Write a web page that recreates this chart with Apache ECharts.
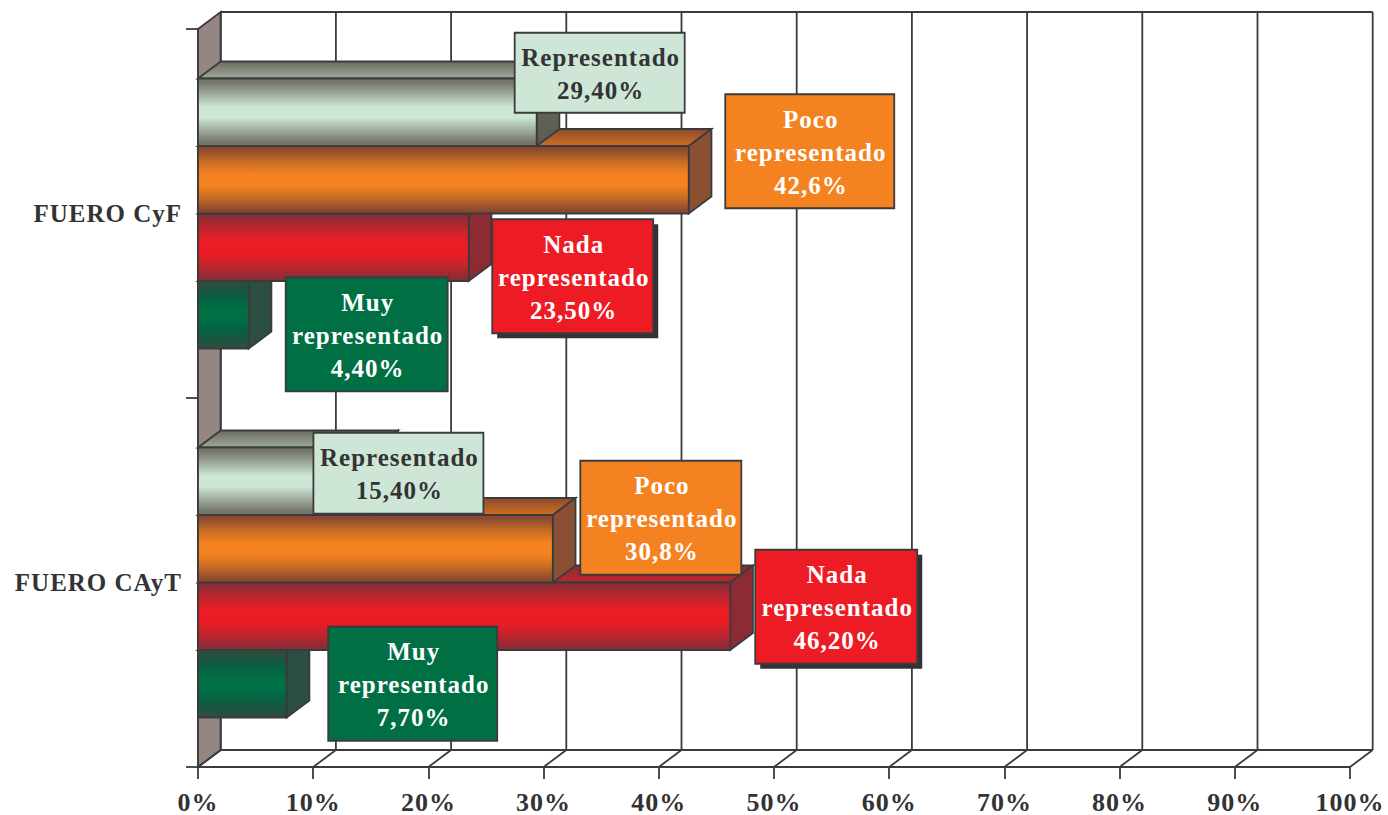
<!DOCTYPE html>
<html>
<head>
<meta charset="utf-8">
<style>
  html, body { margin: 0; padding: 0; background: #fff; }
  #main { width: 1388px; height: 815px; }
  #main text { letter-spacing: 1px; }
</style>
<script src="https://cdn.jsdelivr.net/npm/echarts@6/dist/echarts.min.js"></script>
</head>
<body>
<div id="main"></div>
<script>
const categories = ['FUERO CAyT', 'FUERO CyF'];
const ticks = [0, 10, 20, 30, 40, 50, 60, 70, 80, 90, 100];

const muyValues = [7.7, 4.4];
const nadaValues = [46.2, 23.5];
const pocoValues = [30.8, 42.6];
const repValues = [15.4, 29.4];

const muyLabels = ['Muy\nrepresentado\n7,70%', 'Muy\nrepresentado\n4,40%'];
const nadaLabels = ['Nada\nrepresentado\n46,20%', 'Nada\nrepresentado\n23,50%'];
const pocoLabels = ['Poco\nrepresentado\n30,8%', 'Poco\nrepresentado\n42,6%'];
const repLabels = ['Representado\n15,40%', 'Representado\n29,40%'];

// 3d look of the old chart
const DEPTH_X = 22.7;
const DEPTH_Y = 17;
const BAR_H = 67.5;
const LINE = '#3b3b3e';
const LINE_W = 1.8;
const FONT = 'bold 25px "Liberation Serif"';

function bands(edge, mid) {
  return [
    [0, edge], [0.05, edge], [0.25, mid[0]], [0.42, mid[1]], [0.58, mid[1]], [0.75, mid[0]], [0.95, edge], [1, edge]
  ].map(function (s) { return { offset: s[0], color: s[1] }; });
}
function vertical(stops) {
  return { type: 'linear', x: 0, y: 0, x2: 0, y2: 1, colorStops: stops };
}

// bar offset from the band centre, callout centre relative to the bar end, callout size [CAyT, CyF]
const looks = {
  muy: { off: 101.25, edge: '#2a4f3f', mid: ['#085f42', '#006f44'], side: ['#2b4f40', '#2b4f40'], top: ['#2b4f40', '#1c5a42'],
    shift: [[126, 0], [118, 19.5]], size: [[169, 114], [162, 114]], fill: '#006f44', text: '#fff', shadow: false },
  nada: { off: 33.75, edge: '#8c2c35', mid: ['#c8242c', '#ed1c24'], side: ['#8d2b35', '#8d2b35'], top: ['#8c2c35', '#c1242c'],
    shift: [[106, -9.5], [104, 29]], size: [[162, 114], [161, 114]], fill: '#ed1c24', text: '#fff', shadow: true },
  poco: { off: -33.75, edge: '#8b4a2f', mid: ['#cc6f24', '#f58220'], side: ['#8b4f33', '#8b4f33'], top: ['#8b4a2f', '#d0701f'],
    shift: [[108, -31], [121, -28.5]], size: [[161, 114], [169, 114]], fill: '#f58220', text: '#fff', shadow: false },
  rep: { off: -101.25, edge: '#74746a', mid: ['#a3b1a1', '#cde6d6'], side: ['#6d6d60', '#5a5a50'], top: ['#6c6b5e', '#9dab9b'],
    shift: [[23, -8], [63, -39.5]], size: [[170, 81], [170, 80]], fill: '#cde6d6', text: '#333336', shadow: false }
};

function renderScene(params, api) {
  const cs = params.coordSys;
  const x = api.coord([api.value(0), 0])[0];
  const top = cs.y;
  const bottom = cs.y + cs.height;
  const lineStyle = { stroke: LINE, lineWidth: LINE_W, fill: 'none' };
  const kids = [
    { type: 'line', shape: { x1: x + DEPTH_X, y1: top - DEPTH_Y, x2: x + DEPTH_X, y2: bottom - DEPTH_Y }, style: lineStyle },
    { type: 'line', shape: { x1: x, y1: bottom, x2: x + DEPTH_X, y2: bottom - DEPTH_Y }, style: lineStyle }
  ];
  if (params.dataIndex === 0) {
    const bx = x + DEPTH_X;
    const tx = cs.x + cs.width + DEPTH_X;
    kids.unshift(
      { type: 'polygon',
        shape: { points: [[x, top], [bx, top - DEPTH_Y], [bx, bottom - DEPTH_Y], [x, bottom]] },
        style: { fill: '#948681', stroke: LINE, lineWidth: LINE_W } },
      { type: 'line', shape: { x1: bx, y1: top - DEPTH_Y, x2: tx, y2: top - DEPTH_Y }, style: lineStyle },
      { type: 'line', shape: { x1: bx, y1: bottom - DEPTH_Y, x2: tx, y2: bottom - DEPTH_Y }, style: lineStyle }
    );
  }
  return { type: 'group', children: kids };
}

function renderBar(look) {
  return function (params, api) {
    const start = api.coord([0, api.value(1)]);
    const end = api.coord([api.value(0), api.value(1)]);
    const y0 = start[1] + look.off - BAR_H / 2;
    const y1 = y0 + BAR_H;
    const x0 = start[0];
    const x1 = end[0];
    const edgeStyle = { stroke: LINE, lineWidth: LINE_W };
    return {
      type: 'group',
      children: [
        { type: 'polygon',
          shape: { points: [[x0, y0], [x0 + DEPTH_X, y0 - DEPTH_Y], [x1 + DEPTH_X, y0 - DEPTH_Y], [x1, y0]] },
          style: Object.assign({ fill: vertical([{ offset: 0, color: look.top[0] }, { offset: 1, color: look.top[1] }]) }, edgeStyle) },
        { type: 'polygon',
          shape: { points: [[x1, y0], [x1 + DEPTH_X, y0 - DEPTH_Y], [x1 + DEPTH_X, y1 - DEPTH_Y], [x1, y1]] },
          style: Object.assign({ fill: vertical([{ offset: 0, color: look.side[0] }, { offset: 1, color: look.side[1] }]) }, edgeStyle) },
        { type: 'rect',
          shape: { x: x0, y: y0, width: x1 - x0, height: BAR_H },
          style: Object.assign({ fill: vertical(bands(look.edge, look.mid)) }, edgeStyle) }
      ]
    };
  };
}

function renderCallout(look, labels) {
  return function (params, api) {
    const i = params.dataIndex;
    const end = api.coord([api.value(0), api.value(1)]);
    const cx = end[0] + look.shift[i][0];
    const cy = end[1] + look.off + look.shift[i][1];
    const w = look.size[i][0];
    const h = look.size[i][1];
    const kids = [];
    if (look.shadow) {
      kids.push({ type: 'rect', shape: { x: cx - w / 2 + 5, y: cy - h / 2 + 5, width: w, height: h },
        style: { fill: '#333336' } });
    }
    kids.push({ type: 'rect', shape: { x: cx - w / 2, y: cy - h / 2, width: w, height: h },
      style: { fill: look.fill, stroke: LINE, lineWidth: LINE_W } });
    kids.push({ type: 'text', x: cx + 1, y: cy + 1,
      style: { text: labels[i], font: FONT, fill: look.text, align: 'center', verticalAlign: 'middle', lineHeight: 33 } });
    return { type: 'group', children: kids };
  };
}

function toPairs(values) {
  return values.map(function (v, i) { return [v, i]; });
}

const parts = [
  { look: looks.muy, values: muyValues, labels: muyLabels },
  { look: looks.nada, values: nadaValues, labels: nadaLabels },
  { look: looks.poco, values: pocoValues, labels: pocoLabels },
  { look: looks.rep, values: repValues, labels: repLabels }
];

const series = [{
  type: 'custom', name: 'scene', z: 1, silent: true,
  renderItem: renderScene,
  data: ticks.map(function (t) { return [t, 0]; })
}];
parts.forEach(function (p) {
  series.push({ type: 'custom', z: 3, silent: true, renderItem: renderBar(p.look), data: toPairs(p.values) });
});
parts.forEach(function (p) {
  series.push({ type: 'custom', z: 5, silent: true, renderItem: renderCallout(p.look, p.labels), data: toPairs(p.values) });
});

const chart = echarts.init(document.getElementById('main'), null, { renderer: 'svg' });
chart.setOption({
  animation: false,
  backgroundColor: '#fff',
  textStyle: { fontFamily: 'Liberation Serif' },
  grid: { left: 198, top: 29, width: 1152, height: 739, containLabel: false },
  xAxis: {
    type: 'value', min: 0, max: 100, interval: 10,
    axisLine: { show: true, lineStyle: { color: LINE, width: LINE_W } },
    axisTick: { show: true, length: 12, lineStyle: { color: LINE, width: LINE_W } },
    splitLine: { show: false },
    axisLabel: { formatter: '{value}%', margin: 22, color: '#333336', fontSize: 26, fontWeight: 'bold', fontFamily: 'Liberation Serif' }
  },
  yAxis: {
    type: 'category', data: categories,
    axisLine: { show: true, lineStyle: { color: LINE, width: LINE_W } },
    axisTick: { show: true, length: 12, lineStyle: { color: LINE, width: LINE_W } },
    axisLabel: { margin: 16, color: '#333336', fontSize: 25, fontWeight: 'bold', fontFamily: 'Liberation Serif' }
  },
  series: series
});
</script>
</body>
</html>
